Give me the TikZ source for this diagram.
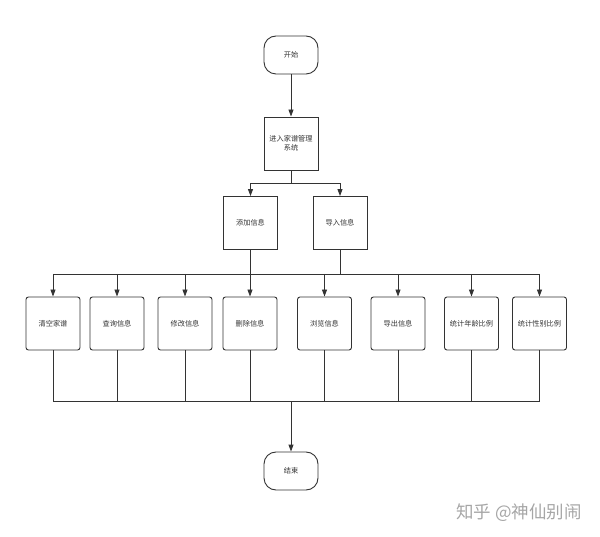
\documentclass[tikz,border=0pt]{standalone}
\usepackage{fontspec}
\newfontfamily\cjk{Noto Sans CJK SC}
\usetikzlibrary{arrows.meta}
\definecolor{ink}{HTML}{333333}
\tikzset{
  proc/.style={draw=ink, line width=0.9pt, minimum width=54pt, minimum height=53pt,
    inner sep=0pt, align=center, font=\cjk\fontsize{7.2}{9}\selectfont, text=ink},
  func/.style={proc, rounded corners=2.5pt},
  term/.style={proc, minimum height=38pt, rounded corners=12pt},
  link/.style={draw=ink, line width=0.9pt},
  arr/.style={link, -{Triangle[length=7pt, width=5pt]}}
}
\begin{document}
\begin{tikzpicture}[x=1pt, y=-1pt]
\useasboundingbox (0,0) rectangle (600,537);
% top part
\node[term] (start) at (291,55) {开始};
\node[proc] (enter) at (291,143.5) {进入家谱管理\\系统};
\node[proc] (add) at (250.5,223) {添加信息};
\node[proc] (import) at (340,223) {导入信息};
% function row
\node[func] (b1) at (53,323.5) {清空家谱};
\node[func] (b2) at (117,323.5) {查询信息};
\node[func] (b3) at (185,323.5) {修改信息};
\node[func] (b4) at (250,323.5) {删除信息};
\node[func] (b5) at (324.5,323.5) {浏览信息};
\node[func] (b6) at (398,323.5) {导出信息};
\node[func] (b7) at (471.5,323.5) {统计年龄比例};
\node[func] (b8) at (539.5,323.5) {统计性别比例};
\node[term] (stop) at (291,471) {结束};
% watermark
\node[text=black!35, font=\cjk\fontsize{17.5}{20}\selectfont] (mark) at (519,513) {知乎 @神仙别闹};
% bus lines
\coordinate (fork) at (291,183);
\coordinate (bus1) at (0,274);
\coordinate (bus2) at (0,401);
\draw[arr] (start) -- (enter);
\draw[link] (enter.south) -- (fork);
\draw[arr] (fork) -| (add.north);
\draw[arr] (fork) -| (import.north);
\draw[link] (add.south) -- (add.south |- bus1);
\draw[link] (import.south) -- (import.south |- bus1);
\draw[link] (b1.north |- bus1) -- (b8.north |- bus1);
\foreach \i in {1,...,8}
  \draw[arr] (b\i.north |- bus1) -- (b\i.north);
\foreach \i in {1,...,8}
  \draw[link] (b\i.south) -- (b\i.south |- bus2);
\draw[link] (b1.south |- bus2) -- (b8.south |- bus2);
\draw[arr] (stop.north |- bus2) -- (stop.north);
\end{tikzpicture}
\end{document}
